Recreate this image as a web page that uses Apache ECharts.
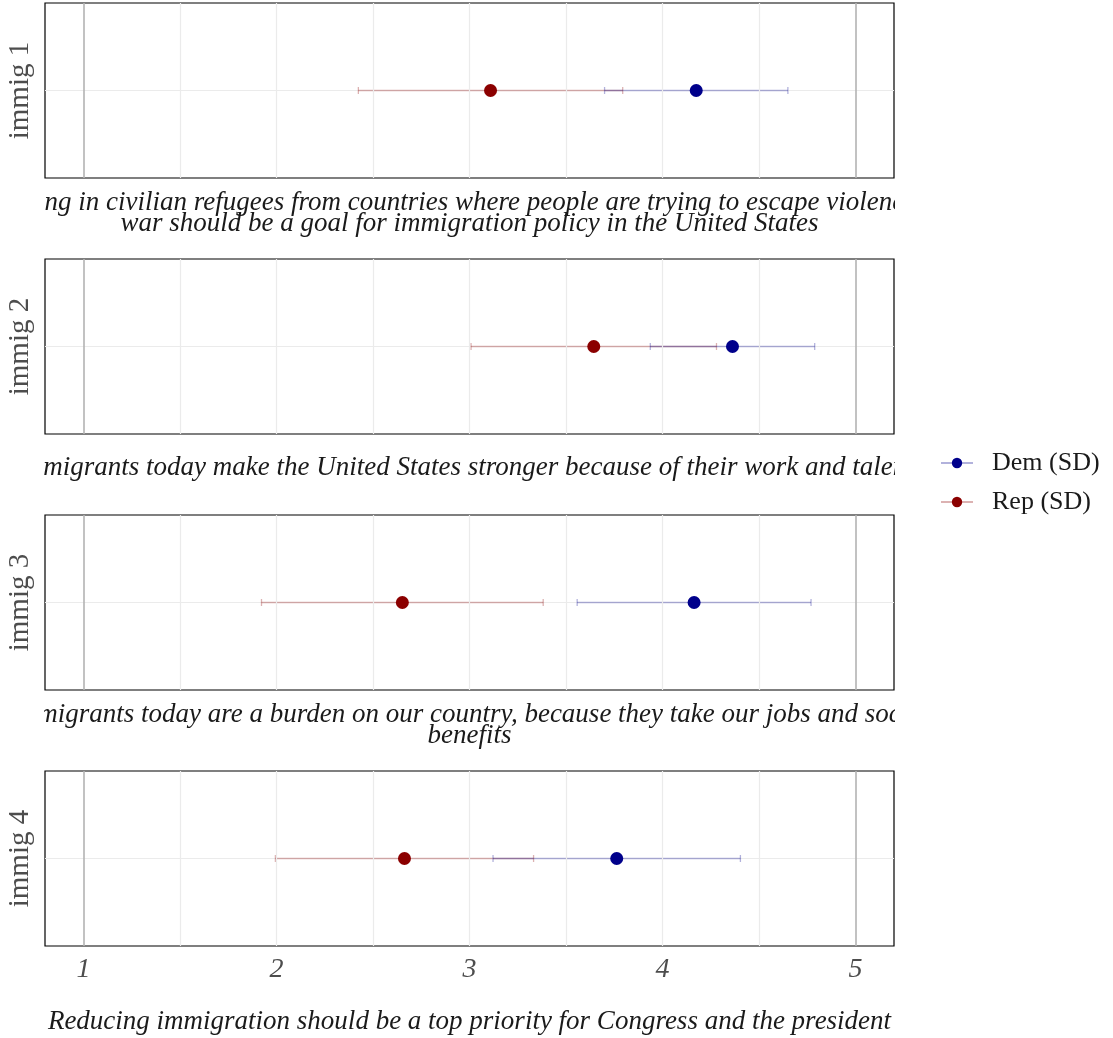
<!DOCTYPE html>
<html>
<head>
<meta charset="utf-8">
<script src="https://cdn.jsdelivr.net/npm/echarts@6/dist/echarts.min.js"></script>
<style>
  html, body { margin: 0; padding: 0; background: #ffffff; }
  #chart { width: 1113px; height: 1038px; }
</style>
</head>
<body>
<div id="chart"></div>
<script>
// Panel labels and the survey statements shown under each panel
const panelLabels = ['immig 1', 'immig 2', 'immig 3', 'immig 4'];
const statements = [
  'Bringing in civilian refugees from countries where people are trying to escape violence and\nwar should be a goal for immigration policy in the United States',
  'Immigrants today make the United States stronger because of their work and talents',
  'Immigrants today are a burden on our country, because they take our jobs and social\nbenefits',
  'Reducing immigration should be a top priority for Congress and the president'
];

// Mean agreement (1-5) and standard deviation by party
const demMean = [4.175, 4.363, 4.164, 3.763];
const demSD   = [0.475, 0.426, 0.606, 0.641];
const repMean = [3.109, 3.644, 2.652, 2.663];
const repSD   = [0.685, 0.636, 0.730, 0.669];

// Axis ticks and reference lines
const tickValues = [1, 2, 3, 4, 5];
const gridValues = [1, 1.5, 2, 2.5, 3, 3.5, 4, 4.5, 5];

const serif = '"Liberation Serif", "DejaVu Serif", serif';
const DEM = '#00008B', REP = '#8B0000';
const DEM_BAR = 'rgba(0,0,139,0.30)', REP_BAR = 'rgba(139,0,0,0.30)';

const panelTops = [3, 259, 515, 771];
const panelHeight = 175;
const panelLeft = 45, panelRight = 1113 - 894;
const titleGaps = [14, 23, 14, 65];

const grids = [], xAxes = [], yAxes = [], series = [];

function errorBar(params, api) {
  const y = api.value(2);
  const a = api.coord([api.value(0), y]);
  const b = api.coord([api.value(1), y]);
  const style = { stroke: api.visual('color'), lineWidth: 1.3 };
  const cap = 3.5;
  return {
    type: 'group',
    children: [
      { type: 'line', shape: { x1: a[0], y1: a[1], x2: b[0], y2: b[1] }, style: style },
      { type: 'line', shape: { x1: a[0], y1: a[1] - cap, x2: a[0], y2: a[1] + cap }, style: style },
      { type: 'line', shape: { x1: b[0], y1: b[1] - cap, x2: b[0], y2: b[1] + cap }, style: style }
    ]
  };
}

panelLabels.forEach((label, i) => {
  const last = i === panelLabels.length - 1;
  grids.push({
    left: panelLeft, right: panelRight, top: panelTops[i], height: panelHeight,
    containLabel: false, outerBoundsMode: 'none',
    show: true, borderColor: '#000000', borderWidth: 1.2, backgroundColor: '#ffffff'
  });
  xAxes.push({
    gridIndex: i, type: 'value', min: 0.8, max: 5.2, interval: 0.2,
    axisLine: { show: false }, axisTick: { show: false }, splitLine: { show: false },
    axisLabel: {
      show: last, margin: 10,
      fontFamily: serif, fontStyle: 'italic', fontSize: 28, color: '#4d4d4d',
      formatter: v => {
        const r = Math.round(v);
        return (Math.abs(v - r) < 1e-6 && tickValues.includes(r)) ? String(r) : '';
      }
    },
    name: statements[i], nameLocation: 'middle', nameGap: titleGaps[i],
    nameTextStyle: {
      fontFamily: serif, fontStyle: 'italic', fontSize: 27, color: '#1a1a1a',
      lineHeight: 21, verticalAlign: 'top'
    }
  });
  yAxes.push({
    gridIndex: i, type: 'value', min: -1, max: 1, interval: 1,
    axisLine: { show: false }, axisTick: { show: false }, axisLabel: { show: false },
    splitLine: { show: true, lineStyle: { color: ['transparent', '#ebebeb', 'transparent'], width: 1.2 } },
    name: label, nameLocation: 'middle', nameRotate: 90, nameGap: 10,
    nameTextStyle: { fontFamily: serif, fontSize: 29, color: '#4d4d4d' }
  });

  // vertical reference lines
  series.push({
    type: 'scatter', xAxisIndex: i, yAxisIndex: i, data: [], silent: true, z: 1,
    markLine: {
      silent: true, symbol: 'none', label: { show: false }, animation: false,
      data: gridValues.map(v => ({
        xAxis: v,
        lineStyle: {
          type: 'solid',
          color: (v === 1 || v === 5) ? '#b3b3b3' : '#ebebeb',
          width: (v === 1 || v === 5) ? 1.6 : 1.2
        }
      }))
    }
  });

  // +/- 1 SD bars
  series.push({
    type: 'custom', xAxisIndex: i, yAxisIndex: i, z: 2, silent: true,
    itemStyle: { color: REP_BAR },
    encode: { x: [0, 1], y: 2 },
    renderItem: errorBar,
    data: [[repMean[i] - repSD[i], repMean[i] + repSD[i], 0]]
  });
  series.push({
    type: 'custom', xAxisIndex: i, yAxisIndex: i, z: 2, silent: true,
    itemStyle: { color: DEM_BAR },
    encode: { x: [0, 1], y: 2 },
    renderItem: errorBar,
    data: [[demMean[i] - demSD[i], demMean[i] + demSD[i], 0]]
  });

  // party means
  series.push({
    name: 'Dem (SD)', type: 'line', xAxisIndex: i, yAxisIndex: i, z: 5,
    symbol: 'circle', symbolSize: 13, showSymbol: true,
    itemStyle: { color: DEM }, lineStyle: { color: 'rgba(0,0,139,0.3)', width: 2 },
    data: [[demMean[i], 0]]
  });
  series.push({
    name: 'Rep (SD)', type: 'line', xAxisIndex: i, yAxisIndex: i, z: 5,
    symbol: 'circle', symbolSize: 13, showSymbol: true,
    itemStyle: { color: REP }, lineStyle: { color: 'rgba(139,0,0,0.3)', width: 2 },
    data: [[repMean[i], 0]]
  });
});

// white bands that clip the long statements at the panel edges
// [top, height, width of the right-hand band]
const coverRows = [[180, 78, 218], [436, 78, 38], [692, 78, 218], [990, 48, 218]];
const graphics = [];
coverRows.forEach(([y, h, w]) => {
  graphics.push({ type: 'rect', left: 0, top: y, z: 100,
    shape: { width: panelLeft - 1, height: h }, style: { fill: '#ffffff' } });
  graphics.push({ type: 'rect', left: 895, top: y, z: 100,
    shape: { width: w, height: h }, style: { fill: '#ffffff' } });
});

const chart = echarts.init(document.getElementById('chart'), null, { renderer: 'canvas' });
chart.setOption({
  animation: false,
  backgroundColor: '#ffffff',
  legend: {
    data: ['Dem (SD)', 'Rep (SD)'], orient: 'vertical', left: 935, top: 445,
    itemWidth: 32, itemHeight: 13, itemGap: 13,
    textStyle: { fontFamily: serif, fontSize: 26, color: '#1a1a1a', padding: [0, 0, 0, 14] }
  },
  grid: grids, xAxis: xAxes, yAxis: yAxes, series: series,
  graphic: graphics
});
</script>
</body>
</html>
